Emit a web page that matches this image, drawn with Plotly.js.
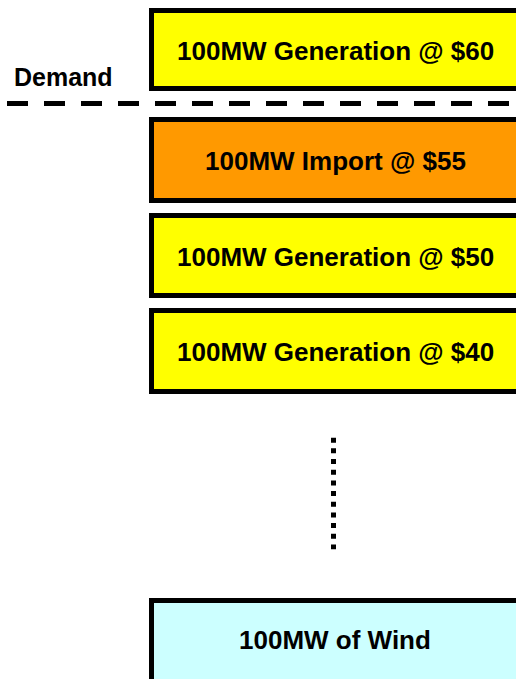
<!DOCTYPE html>
<html>
<head>
<meta charset="utf-8">
<script src="https://cdn.plot.ly/plotly-3.0.1.min.js"></script>
<style>html,body{margin:0;padding:0;background:#fff;}#chart{width:516px;height:679px;}</style>
</head>
<body>
<div id="chart"></div>
<script>
// ---- data ----
const sources    = ['Generation', 'Import', 'Generation', 'Generation', 'Wind'];
const capacityMW = [100, 100, 100, 100, 100];
const pricesUSD  = [60, 55, 50, 40, null];
const boxColors  = ['#FFFF00', '#FF9900', '#FFFF00', '#FFFF00', '#CCFFFF'];
const demandLabel = 'Demand';

// ---- layout geometry (pixel-like units of the canvas) ----
const W = 516, H = 679;
const boxTops    = [8, 117, 213, 308, 598];
const boxBottoms = [91, 203, 298, 394, 684];
const boxLeft = 149, boxRight = 521, borderW = 5;

function labelFor(i) {
  if (pricesUSD[i] === null) return capacityMW[i] + 'MW of ' + sources[i];
  return capacityMW[i] + 'MW ' + sources[i] + ' @ $' + pricesUSD[i];
}

const shapes = [];
const annotations = [];
const boxFont = {family: 'Liberation Sans, Arial, sans-serif', size: 26, color: '#000', weight: 700};
const demandFont = {family: 'Liberation Sans, Arial, sans-serif', size: 25, color: '#000', weight: 700};

sources.forEach((s, i) => {
  const h = borderW / 2;
  shapes.push({
    type: 'rect', xref: 'x', yref: 'y',
    x0: boxLeft + h, x1: boxRight - h,
    y0: boxTops[i] + h, y1: boxBottoms[i] - h,
    fillcolor: boxColors[i],
    line: {color: '#000', width: borderW},
    layer: 'above'
  });
  annotations.push({
    xref: 'x', yref: 'y', x: 335, y: (boxTops[i] + Math.min(boxBottoms[i], H)) / 2 + 1,
    text: labelFor(i), showarrow: false, xanchor: 'center', yanchor: 'middle',
    font: boxFont
  });
});

// demand dashed line
shapes.push({
  type: 'line', xref: 'x', yref: 'y', x0: 7, x1: W + 5, y0: 103.5, y1: 103.5,
  line: {color: '#000', width: 5, dash: '21px,16px'}
});
annotations.push({
  xref: 'x', yref: 'y', x: 63.5, y: 77, text: demandLabel, showarrow: false,
  xanchor: 'center', yanchor: 'middle', font: demandFont
});

// dotted continuation line
shapes.push({
  type: 'line', xref: 'x', yref: 'y', x0: 333.5, x1: 333.5, y0: 437.7, y1: 549.3,
  line: {color: '#000', width: 5, dash: '5px,5.67px'}
});

const layout = {
  width: W, height: H,
  margin: {l: 0, r: 0, t: 0, b: 0, pad: 0},
  paper_bgcolor: '#fff', plot_bgcolor: '#fff',
  xaxis: {range: [0, W], visible: false, fixedrange: true},
  yaxis: {range: [H, 0], visible: false, fixedrange: true},
  showlegend: false,
  shapes: shapes,
  annotations: annotations
};

Plotly.newPlot('chart', [], layout, {displayModeBar: false, staticPlot: true});
</script>
</body>
</html>
